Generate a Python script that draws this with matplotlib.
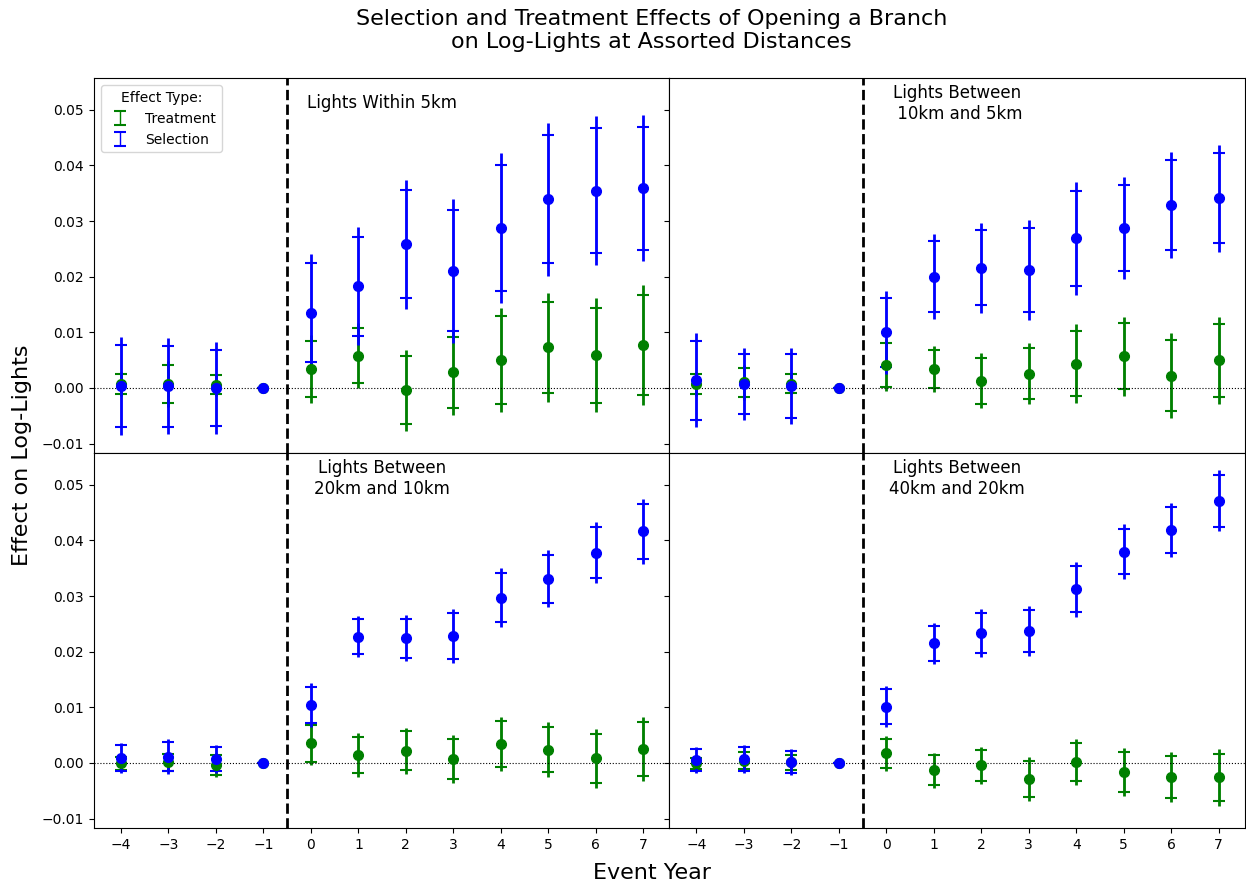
import numpy as np
import matplotlib
matplotlib.use("Agg")
import matplotlib.pyplot as plt

# event years relative to branch opening (-1 is the omitted reference year)
event_years = [-4, -3, -2, -1, 0, 1, 2, 3, 4, 5, 6, 7]

# point estimates and standard errors
sel_5km = [0.0004, 0.0003, 0.0000, 0.0, 0.0135, 0.0183, 0.0258, 0.0211, 0.0288, 0.0339, 0.0355, 0.0359]
sel_5km_se = [0.0045, 0.0044, 0.0042, 0.0, 0.0054, 0.0054, 0.0059, 0.0066, 0.0069, 0.0070, 0.0068, 0.0067]
trt_5km = [0.0007, 0.0007, 0.0006, 0.0, 0.0034, 0.0058, -0.0004, 0.0028, 0.0050, 0.0073, 0.0059, 0.0077]
trt_5km_se = [0.0011, 0.0021, 0.0010, 0.0, 0.0031, 0.0030, 0.0037, 0.0039, 0.0048, 0.0050, 0.0052, 0.0055]

sel_10km = [0.0014, 0.0007, 0.0004, 0.0, 0.0100, 0.0200, 0.0216, 0.0212, 0.0269, 0.0288, 0.0329, 0.0341]
sel_10km_se = [0.0043, 0.0033, 0.0035, 0.0, 0.0038, 0.0039, 0.0041, 0.0046, 0.0052, 0.0047, 0.0049, 0.0049]
trt_10km = [0.0007, 0.0010, 0.0008, 0.0, 0.0041, 0.0034, 0.0013, 0.0026, 0.0044, 0.0057, 0.0022, 0.0050]
trt_10km_se = [0.0011, 0.0016, 0.0010, 0.0, 0.0024, 0.0021, 0.0025, 0.0028, 0.0036, 0.0036, 0.0039, 0.0040]

sel_20km = [0.0009, 0.0011, 0.0007, 0.0, 0.0104, 0.0227, 0.0224, 0.0228, 0.0297, 0.0331, 0.0378, 0.0416]
sel_20km_se = [0.0014, 0.0016, 0.0013, 0.0, 0.0020, 0.0019, 0.0021, 0.0025, 0.0027, 0.0026, 0.0028, 0.0030]
trt_20km = [-0.0001, 0.0001, -0.0004, 0.0, 0.0035, 0.0014, 0.0022, 0.0007, 0.0034, 0.0024, 0.0008, 0.0025]
trt_20km_se = [0.0007, 0.0009, 0.0011, 0.0, 0.0020, 0.0020, 0.0021, 0.0022, 0.0025, 0.0025, 0.0027, 0.0029]

sel_40km = [0.0005, 0.0007, 0.0002, 0.0, 0.0101, 0.0215, 0.0234, 0.0237, 0.0312, 0.0380, 0.0419, 0.0471]
sel_40km_se = [0.0012, 0.0013, 0.0012, 0.0, 0.0019, 0.0019, 0.0022, 0.0023, 0.0025, 0.0025, 0.0025, 0.0028]
trt_40km = [-0.0001, 0.0004, 0.0001, 0.0, 0.0017, -0.0013, -0.0004, -0.0029, 0.0002, -0.0017, -0.0025, -0.0026]
trt_40km_se = [0.0006, 0.0009, 0.0008, 0.0, 0.0016, 0.0016, 0.0017, 0.0020, 0.0021, 0.0022, 0.0023, 0.0026]

panel_titles = ["Lights Within 5km", "Lights Between\n 10km and 5km",
                "Lights Between\n20km and 10km", "Lights Between\n40km and 20km"]

panels = [
    (trt_5km, trt_5km_se, sel_5km, sel_5km_se),
    (trt_10km, trt_10km_se, sel_10km, sel_10km_se),
    (trt_20km, trt_20km_se, sel_20km, sel_20km_se),
    (trt_40km, trt_40km_se, sel_40km, sel_40km_se),
]

Z95, Z90 = 1.96, 1.645

fig, axes = plt.subplots(2, 2, figsize=(12.46, 8.88), dpi=100, sharex=True, sharey=True)
fig.subplots_adjust(left=0.0754, right=0.999, top=0.912, bottom=0.0676, wspace=0, hspace=0)

x = np.array(event_years)
for i, ax in enumerate(axes.flat):
    trt, trt_se, sel, sel_se = panels[i]
    handles = []
    for coef, se, color, label in [(trt, trt_se, 'green', 'Treatment'),
                                   (sel, sel_se, 'blue', 'Selection')]:
        coef = np.array(coef)
        se = np.array(se)
        # 95% interval: thick line, no caps, with the point estimate
        ax.errorbar(x, coef, yerr=Z95 * se, fmt='o', color=color, ms=7,
                    elinewidth=2, capsize=0)
        # 90% interval: thin line with caps
        h = ax.errorbar(x, coef, yerr=Z90 * se, fmt='none', ecolor=color,
                        elinewidth=1, capsize=4, capthick=1.5, label=label)
        handles.append(h)

    ax.axvline(-0.5, color='black', linestyle='--', linewidth=2)
    ax.axhline(0, color='black', linestyle=':', linewidth=0.8)
    ax.text(0.5, 0.933, panel_titles[i], transform=ax.transAxes,
            ha='center', va='center', fontsize=12)

    if i == 0:
        ax.legend(handles=handles, title='Effect Type:', loc='upper left')

axes[0, 0].set_xlim(-4.57, 7.55)
axes[0, 0].set_ylim(-0.0117, 0.0557)
axes[0, 0].set_xticks(event_years)
axes[0, 0].set_yticks([-0.01, 0.0, 0.01, 0.02, 0.03, 0.04, 0.05])
for ax in axes[0, :]:
    ax.tick_params(axis='x', bottom=False)

fig.suptitle('Selection and Treatment Effects of Opening a Branch\non Log-Lights at Assorted Distances',
             fontsize=16, x=0.523, y=0.9657, va='center')
fig.text(0.523, 0.0169, 'Event Year', ha='center', va='center', fontsize=16)
fig.text(0.0177, 0.4876, 'Effect on Log-Lights', ha='center', va='center',
         rotation='vertical', fontsize=16)

plt.savefig('out.png', dpi=100)
